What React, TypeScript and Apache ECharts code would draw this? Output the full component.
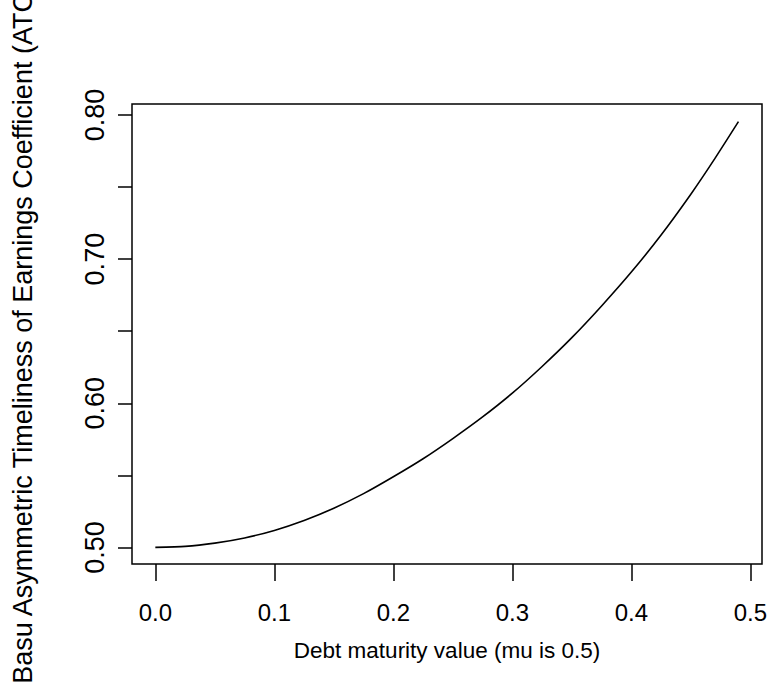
import React, { useEffect, useRef } from "react";
import * as echarts from "echarts";

// Debt maturity value (x) and Basu ATC coefficient (y)
const maturity = [
  0, 0.025, 0.05, 0.075, 0.1, 0.125, 0.15, 0.175, 0.2, 0.225, 0.25, 0.275, 0.3,
  0.325, 0.35, 0.375, 0.4, 0.425, 0.45, 0.47, 0.49,
];
const atc = [
  0.5, 0.5007, 0.503, 0.5066, 0.5118, 0.5187, 0.5272, 0.5373, 0.549, 0.5615,
  0.5755, 0.5905, 0.607, 0.6255, 0.6455, 0.6675, 0.691, 0.7167, 0.745, 0.7695,
  0.7954,
];

const xTicks = [0, 0.1, 0.2, 0.3, 0.4, 0.5];
const yTicks = [0.5, 0.55, 0.6, 0.65, 0.7, 0.75, 0.8];
const yLabels = [0.5, 0.6, 0.7, 0.8];

const xTitle = "Debt maturity value (mu is 0.5)";
const yTitle = "Basu Asymmetric Timeliness of Earnings Coefficient (ATC)";

export default function App() {
  const ref = useRef<HTMLDivElement>(null);
  useEffect(() => {
    if (!ref.current) return;
    const chart = echarts.init(ref.current, null, { renderer: "svg" });
    const font = "'Liberation Sans', Arial, sans-serif";
    chart.setOption({
      animation: false,
      backgroundColor: "#fff",
      grid: {
        left: 132,
        top: 104,
        right: 7,
        bottom: 130,
        show: true,
        borderColor: "#000",
        borderWidth: 1.5,
        backgroundColor: "transparent",
        containLabel: false,
        outerBoundsMode: "none",
      },
      xAxis: {
        type: "value",
        min: -0.0196,
        max: 0.5098,
        splitLine: { show: false },
        axisLine: { show: false, onZero: false },
        axisTick: {
          show: true,
          inside: false,
          length: 17,
          customValues: xTicks,
          lineStyle: { color: "#000", width: 1.5 },
        },
        axisLabel: {
          show: true,
          customValues: xTicks,
          formatter: (v: number) => v.toFixed(1),
          margin: 36,
          color: "#000",
          fontFamily: font,
          fontSize: 24,
          lineHeight: 25,
          hideOverlap: false,
        },
        name: xTitle,
        nameLocation: "middle",
        nameGap: 74,
        nameMoveOverlap: false,
        nameTextStyle: {
          color: "#000",
          fontFamily: font,
          fontSize: 22.5,
          lineHeight: 25,
        },
      },
      yAxis: {
        type: "value",
        min: 0.4885,
        max: 0.8076,
        splitLine: { show: false },
        axisLine: { show: false, onZero: false },
        axisTick: {
          show: true,
          inside: false,
          length: 14,
          customValues: yTicks,
          lineStyle: { color: "#000", width: 1.5 },
        },
        axisLabel: {
          show: true,
          customValues: yLabels,
          rotate: 90,
          formatter: (v: number) => v.toFixed(2),
          margin: 25,
          color: "#000",
          fontFamily: font,
          fontSize: 27,
          lineHeight: 24,
          hideOverlap: false,
        },
        name: yTitle,
        nameLocation: "middle",
        nameRotate: 90,
        nameGap: 97,
        nameMoveOverlap: false,
        nameTextStyle: {
          color: "#000",
          fontFamily: font,
          fontSize: 27,
          lineHeight: 24,
        },
      },
      series: [
        {
          type: "line",
          data: maturity.map((x, i) => [x, atc[i]]),
          showSymbol: false,
          smooth: 0.2,
          lineStyle: { color: "#000", width: 1.6 },
          itemStyle: { color: "#000" },
        },
      ],
    });
    return () => chart.dispose();
  }, []);
  return (
    <div
      ref={ref}
      style={{ position: "absolute", left: 0, top: 0, width: 769, height: 694 }}
    />
  );
}
